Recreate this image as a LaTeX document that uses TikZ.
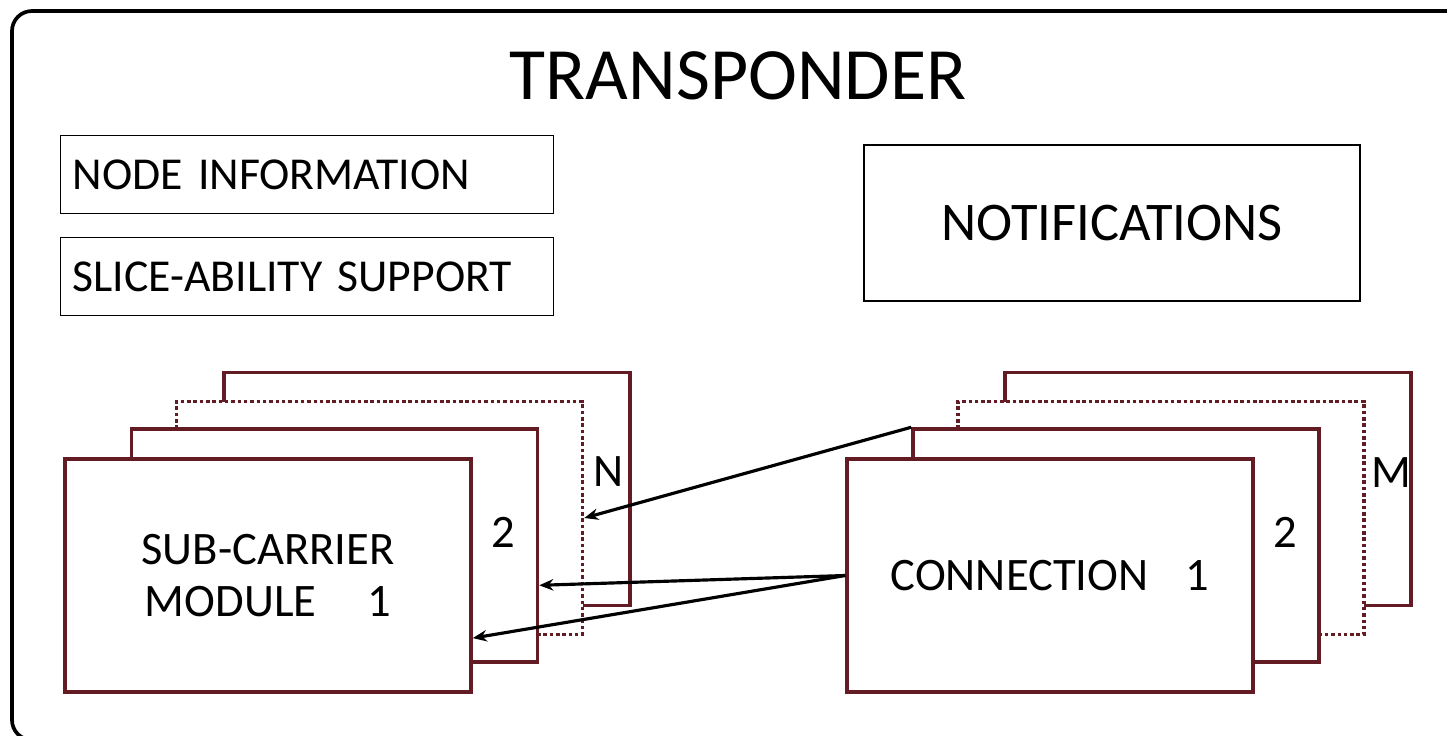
\documentclass[tikz,border=0pt]{standalone}
\usepackage{fontspec}
\setmainfont{Carlito}
\usepackage{tikz}
\usetikzlibrary{arrows.meta}
\definecolor{maroon}{RGB}{100,28,36}
\newcommand{\stackcolor}{maroon}
\newcommand{\linethick}{2pt}
\newcommand{\px}{0.02cm}

\begin{document}
\begin{tikzpicture}[x=0.02cm, y=-0.02cm,
  card/.style={draw=\stackcolor, fill=white, line width=\linethick, rectangle,
    minimum width=406*\px, minimum height=233*\px, inner sep=0pt},
  dottedcard/.style={card, dash pattern=on 2pt off 1.6pt},
  infobox/.style={draw, line width=0.8pt, rectangle, anchor=north west,
    minimum height=78*\px, text width=469*\px, inner xsep=12*\px, align=left,
    font=\fontsize{26}{31}\selectfont},
  cardtext/.style={font=\fontsize{26.5}{30}\selectfont},
  link/.style={draw, line width=1.8pt, -{Stealth[length=8pt, width=6.5pt]}}]
\useasboundingbox (0,0) rectangle (1447,735);
\draw[line width=2.1pt, rounded corners=0.4cm] (12,11) rectangle (1470,740);
\node[font=\fontsize{42}{50}\selectfont] (title) at (738,76) {TRANSPONDER};
\node[infobox] (info) at (60,135) {NODE INFORMATION};
\node[infobox] (slice) at (60,237) {SLICE-ABILITY SUPPORT};
\node[draw, line width=1.4pt, minimum width=496*\px, minimum height=156*\px,
  font=\fontsize{31}{37}\selectfont] (notif) at (1112,223) {NOTIFICATIONS};
%left stack
\node[card] (ln) at (427,489) {};
\node[dottedcard] (ldot) at (379.5,518) {};
\node[card] (l2) at (334.5,545.5) {};
\node[card, cardtext, align=center] (l1) at (268,575.5)
  {SUB-CARRIER\\MODULE\hspace{1.1em}1};
\node[cardtext] (lnlabel) at (609,472) {N};
\node[cardtext] (l2label) at (503,532) {2};
%right stack
\node[card] (rm) at (1208,489) {};
\node[dottedcard] (rdot) at (1161,518) {};
\node[card] (r2) at (1116,545.5) {};
\node[card, cardtext] (r1) at (1050,575.5) {CONNECTION\hspace{0.8em}1};
\node[cardtext] (rmlabel) at (1391,473) {M};
\node[cardtext] (r2label) at (1285,532) {2};
%links
\draw[link] (r1.west) -- (l2.-11);
\draw[link] (r1.west) -- (l1.-17.6);
\draw[link] (r2.north west) -- (ldot.east);
\end{tikzpicture}
\end{document}
